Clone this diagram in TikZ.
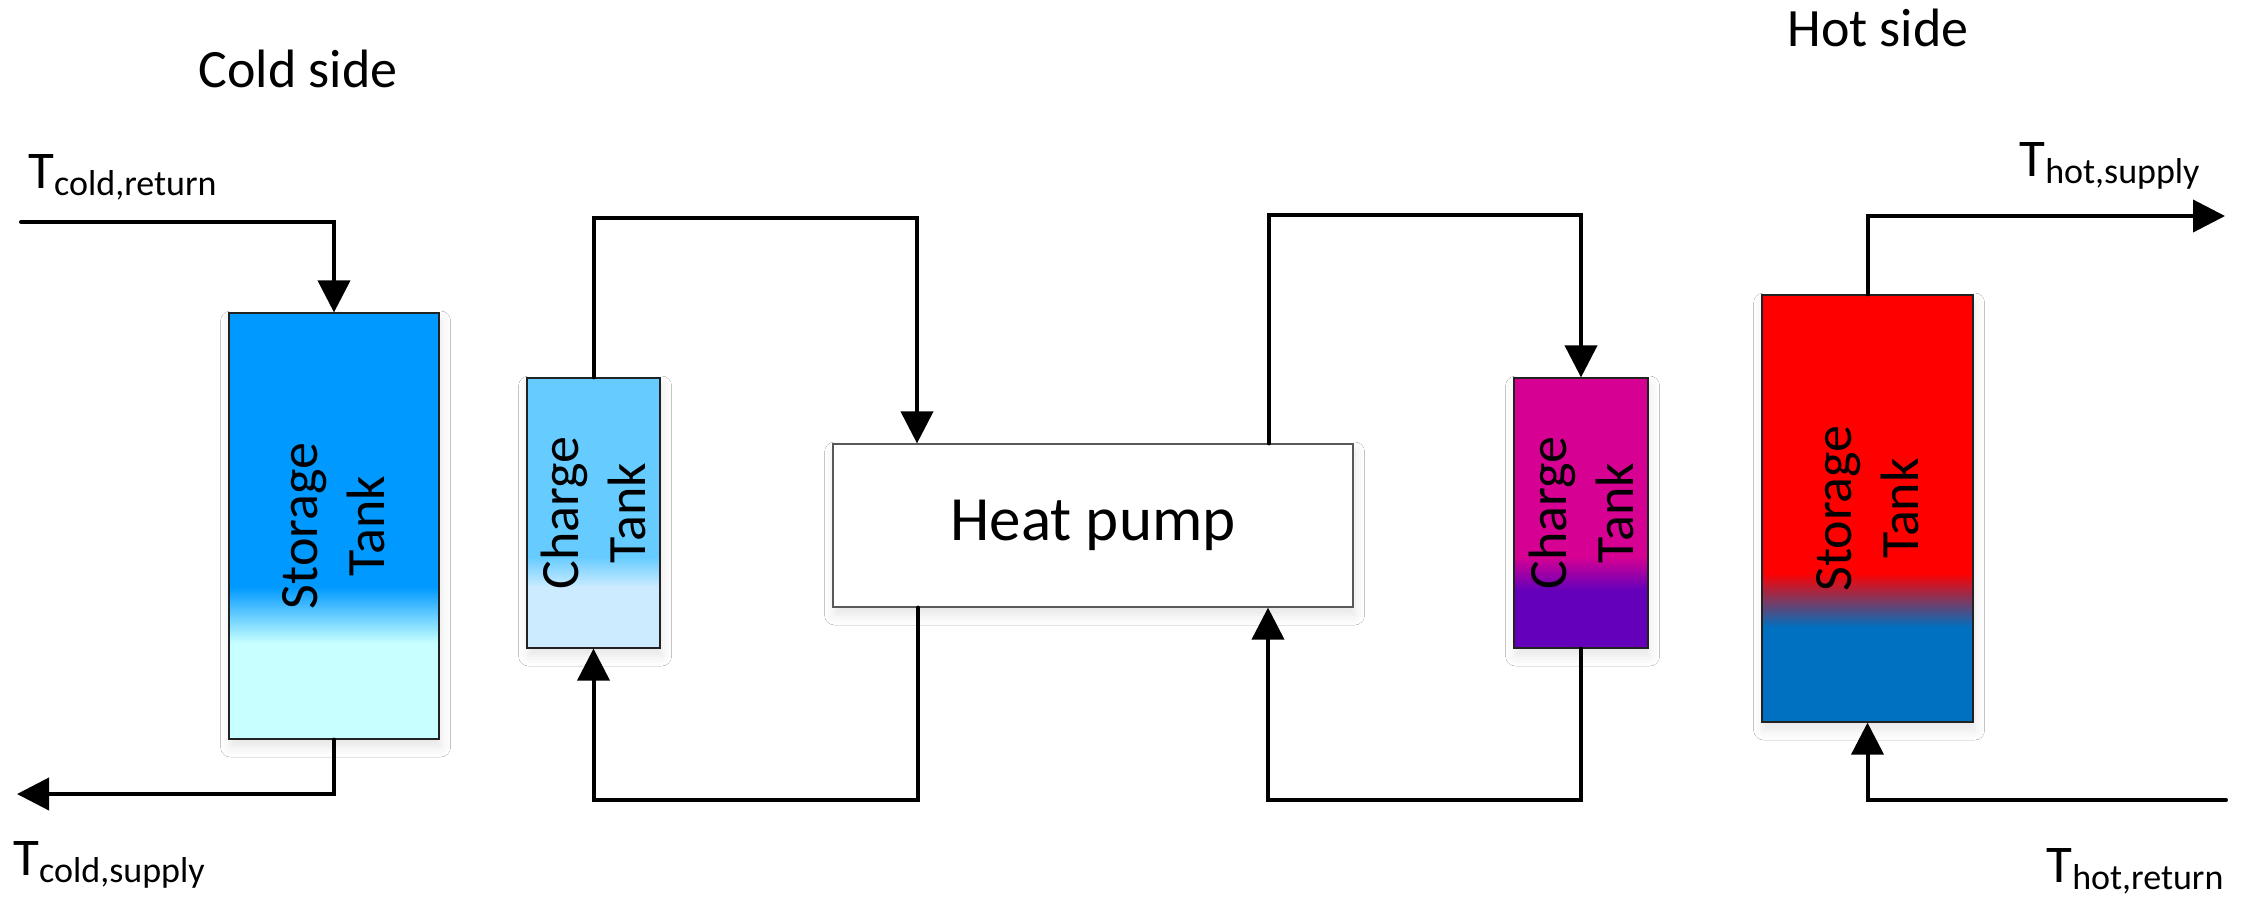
\documentclass[tikz,border=0pt]{standalone}
\usepackage{fontspec}
\setmainfont{Carlito}
\usetikzlibrary{arrows.meta,shadows.blur}
\definecolor{csTop}{HTML}{0099FF}
\definecolor{csBot}{HTML}{C8FFFF}
\definecolor{ccTop}{HTML}{66CCFF}
\definecolor{ccBot}{HTML}{CCEBFF}
\definecolor{hcTop}{HTML}{D60093}
\definecolor{hcBot}{HTML}{6500BA}
\definecolor{hsTop}{HTML}{FF0000}
\definecolor{hsBot}{HTML}{0070C0}
\definecolor{edge}{HTML}{222222}
\pgfdeclareverticalshading{coldstore}{100bp}{color(0bp)=(csBot); color(36.25bp)=(csBot); color(42.85bp)=(csTop); color(100bp)=(csTop)}
\pgfdeclareverticalshading{coldcharge}{100bp}{color(0bp)=(ccBot); color(36.3bp)=(ccBot); color(41.85bp)=(ccTop); color(100bp)=(ccTop)}
\pgfdeclareverticalshading{hotcharge}{100bp}{color(0bp)=(hcBot); color(35.75bp)=(hcBot); color(41.85bp)=(hcTop); color(100bp)=(hcTop)}
\pgfdeclareverticalshading{hotstore}{100bp}{color(0bp)=(hsBot); color(36.1bp)=(hsBot); color(42.45bp)=(hsTop); color(100bp)=(hsTop)}
\newcommand{\Tlab}[1]{{\fontsize{26.5}{30}\selectfont T}\raisebox{-3.5pt}{\fontsize{18}{21}\selectfont #1}}
\begin{document}
\begin{tikzpicture}[x=0.5pt,y=-0.5pt,
  boxshadow/.style={blur shadow={shadow xshift=0.8pt, shadow yshift=-4pt, shadow blur radius=5pt, shadow opacity=10}},
  tank/.style={draw=edge, line width=0.6pt, rectangle, inner sep=0pt, align=center,
    font=\fontsize{27}{33.5}\selectfont, boxshadow},
  tanktext/.style={rotate=90, align=center, inner sep=0pt, font=\fontsize{27}{33.5}\selectfont},
  flow/.style={draw=black, line width=2pt, line cap=round, line join=miter},
  tip/.style={-{Triangle[length=16pt,width=16pt]}},
  heading/.style={inner sep=0pt, font=\fontsize{27}{32}\selectfont},
  templab/.style={inner sep=0pt, anchor=base west}]
\fill[white] (0,0) rectangle (2241,896);
\useasboundingbox (0,0) rectangle (2241,896);

% tanks and heat pump
\node[tank, shade, shading=coldstore, minimum width=105pt, minimum height=213pt] (cst) at (334,526) {};
\node[tank, shade, shading=coldcharge, minimum width=66.5pt, minimum height=135pt] (cct) at (593.5,513) {};
\node[tank, fill=white, draw=black!65, minimum width=260pt, minimum height=81.5pt, font=\fontsize{31.5}{36}\selectfont] (hp) at (1093,525.5) {Heat pump};
\node[tank, shade, shading=hotcharge, minimum width=67pt, minimum height=135pt] (hct) at (1581,513) {};
\node[tank, shade, shading=hotstore, minimum width=105.5pt, minimum height=213.5pt] (hst) at (1867.5,508.5) {};

\node[tanktext] (cstl) at (cst.center) {Storage\\Tank};
\node[tanktext] (cctl) at (cct.center) {Charge\\Tank};
\node[tanktext] (hctl) at (hct.center) {Charge\\Tank};
\node[tanktext] (hstl) at (hst.center) {Storage\\Tank};

% headings and temperature labels
\node[heading, anchor=base] (coldside) at (298,87) {Cold side};
\node[heading, anchor=base] (hotside) at (1878,46) {Hot side};
\node[templab] (tcr) at (28,188) {\Tlab{cold,return}};
\node[templab] (tcs) at (13,875) {\Tlab{cold,supply}};
\node[templab] (ths) at (2019,176) {\Tlab{hot,supply}};
\node[templab] (thr) at (2046,882) {\Tlab{hot,return}};

% coordinates
\coordinate (cret) at (21,222);
\coordinate (csup) at (17,794);
\coordinate (c1) at (917,218);
\coordinate (c2) at (918,800);
\coordinate (c3) at (1268,800);
\coordinate (c4) at (1269,215);
\coordinate (hsup) at (2225,216);
\coordinate (hret) at (2226,800);

% connectors
\draw[flow, tip] (cret) -| (cst.north);
\draw[flow, tip] (cst.south) |- (csup);
\draw[flow, tip] (cct.north) |- (c1) -- (c1 |- hp.north);
\draw[flow, tip] (c2 |- hp.south) -- (c2) -| (cct.south);
\draw[flow, tip] (hct.south) |- (c3) -- (c3 |- hp.south);
\draw[flow, tip] (c4 |- hp.north) -- (c4) -| (hct.north);
\draw[flow, tip] (hst.north) |- (hsup);
\draw[flow, tip] (hret) -| (hst.south);
\end{tikzpicture}
\end{document}
